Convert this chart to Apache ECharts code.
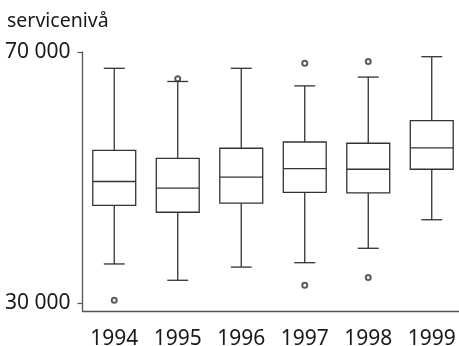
<!DOCTYPE html>
<html><head><meta charset="utf-8">
<script src="https://cdn.jsdelivr.net/npm/echarts@6/dist/echarts.min.js"></script>
<style>html,body{margin:0;padding:0;background:#fff}#c{width:459px;height:346px}</style>
</head><body><div id="c"></div>
<script>
const years = ['1994', '1995', '1996', '1997', '1998', '1999'];
const whiskerLow = [36200, 33600, 35700, 36400, 38700, 43250];
const q1 = [45550, 44450, 45900, 47600, 47550, 51300];
const median = [49350, 48300, 50050, 51400, 51300, 54700];
const q3 = [54300, 53050, 54650, 55650, 55450, 59050];
const whiskerHigh = [67400, 65300, 67400, 64600, 66000, 69250];
const outlierYears = ['1994', '1995', '1997', '1997', '1998', '1998'];
const outlierValues = [30400, 65750, 68200, 32800, 68500, 34050];
const yTickValues = [30000, 70000];
const yMin = 28700, yMax = 70000;
const titleText = 'servicenivå';

const boxData = years.map((y, i) => [i, whiskerLow[i], q1[i], median[i], q3[i], whiskerHigh[i]]);
const outlierData = outlierYears.map((y, i) => [years.indexOf(y), outlierValues[i]]);

const lineColor = '#333';
const chart = echarts.init(document.getElementById('c'));
chart.setOption({
  animation: false,
  backgroundColor: '#fff',
  graphic: [{
    type: 'text', left: 7, top: 11,
    style: { text: titleText, fontSize: 19.5, fontFamily: 'Noto Sans', fill: '#1a1a1a' }
  }],
  grid: { left: 82.5, top: 52, width: 381, height: 259, outerBoundsMode: 'none', containLabel: false },
  xAxis: {
    type: 'category', data: years, boundaryGap: true,
    axisLine: { lineStyle: { color: '#555', width: 1.3 } },
    axisTick: { show: false },
    axisLabel: { fontSize: 21, fontFamily: 'Noto Sans', color: '#1a1a1a', margin: 18 },
    splitLine: { show: false }
  },
  yAxis: {
    type: 'value', min: yMin, max: yMax,
    axisLine: { show: true, lineStyle: { color: '#555', width: 1.3 } },
    axisTick: { show: true, length: 5, customValues: yTickValues, lineStyle: { color: '#555', width: 1.2 } },
    axisLabel: {
      customValues: yTickValues, fontSize: 21, fontFamily: 'Noto Sans', color: '#1a1a1a', margin: 12,
      formatter: v => String(v).replace(/\B(?=(\d{3})+(?!\d))/g, ' ')
    },
    splitLine: { show: false }
  },
  series: [{
    type: 'custom',
    data: boxData,
    encode: { x: 0, y: [1, 2, 3, 4, 5] },
    renderItem: function (params, api) {
      const i = api.value(0);
      const pLo = api.coord([i, api.value(1)]);
      const pQ1 = api.coord([i, api.value(2)]);
      const pMed = api.coord([i, api.value(3)]);
      const pQ3 = api.coord([i, api.value(4)]);
      const pHi = api.coord([i, api.value(5)]);
      const band = api.size([1, 0])[0];
      const hw = band * 0.338, cw = band * 0.165;
      const x = pLo[0];
      const st = { stroke: lineColor, lineWidth: 1.3, fill: null };
      return {
        type: 'group',
        children: [
          { type: 'line', shape: { x1: x, y1: pHi[1], x2: x, y2: pQ3[1] }, style: st },
          { type: 'line', shape: { x1: x - cw, y1: pHi[1], x2: x + cw, y2: pHi[1] }, style: st },
          { type: 'rect', shape: { x: x - hw, y: pQ3[1], width: 2 * hw, height: pQ1[1] - pQ3[1] }, style: { stroke: lineColor, lineWidth: 1.3, fill: 'rgba(0,0,0,0)' } },
          { type: 'line', shape: { x1: x - hw, y1: pMed[1], x2: x + hw, y2: pMed[1] }, style: st },
          { type: 'line', shape: { x1: x, y1: pQ1[1], x2: x, y2: pLo[1] }, style: st },
          { type: 'line', shape: { x1: x - cw, y1: pLo[1], x2: x + cw, y2: pLo[1] }, style: st }
        ]
      };
    }
  }, {
    type: 'scatter',
    data: outlierData,
    symbol: 'emptyCircle',
    symbolSize: 5,
    z: 5,
    itemStyle: { color: lineColor, borderColor: lineColor, borderWidth: 1 }
  }]
});
</script></body></html>
